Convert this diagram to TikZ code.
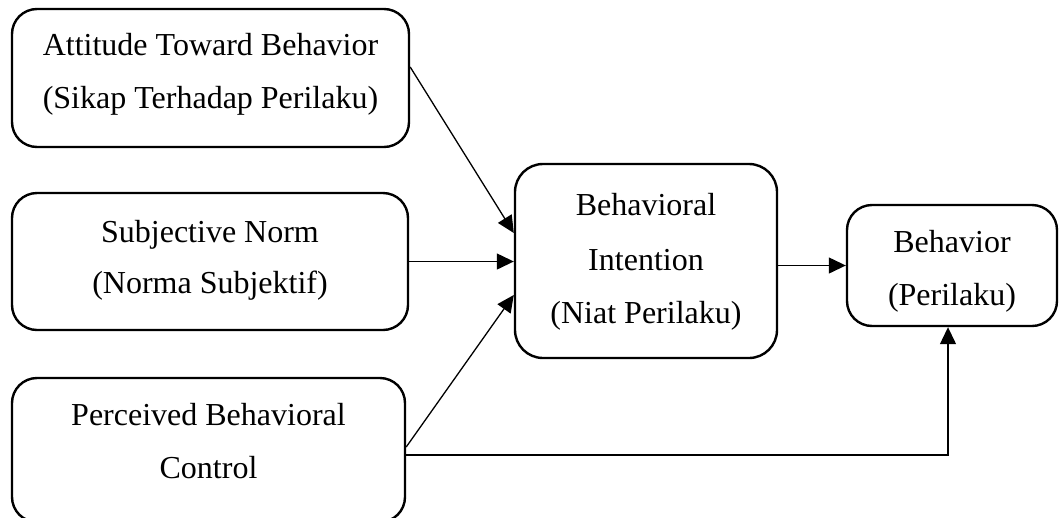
\documentclass[tikz,border=0pt]{standalone}
\usepackage{fontspec}
\setmainfont{Liberation Serif}
\usetikzlibrary{arrows.meta}
\begin{document}
\begin{tikzpicture}[x=1pt,y=-1pt,
  box/.style={draw, line width=2.4pt, rounded corners=25pt, rectangle, inner sep=0pt},
  txt/.style={anchor=base, inner sep=0pt, font=\fontsize{32}{38}\selectfont},
  arr/.style={line width=1.3pt, -{Triangle[length=17pt,width=16pt]}}]
\useasboundingbox (0,0) rectangle (1059,517);
\clip (0,0) rectangle (1059,517);
% boxes
\node[box, minimum width=397pt, minimum height=138pt] (b1) at (210.5,78) {};
\node[box, minimum width=396pt, minimum height=137pt] (b2) at (210,261.5) {};
\node[box, minimum width=393pt, minimum height=144pt] (b3) at (208.5,450) {};
\node[box, rounded corners=28pt, minimum width=262pt, minimum height=194pt] (b4) at (646,261) {};
\node[box, minimum width=210pt, minimum height=121pt] (b5) at (952,265.5) {};
% texts
\node[txt] (t1a) at (210.5,55) {Attitude Toward Behavior};
\node[txt] (t1b) at (210.5,108) {(Sikap Terhadap Perilaku)};
\node[txt] (t2a) at (210,242) {Subjective Norm};
\node[txt] (t2b) at (210,293) {(Norma Subjektif)};
\node[txt] (t3a) at (208.5,425) {Perceived Behavioral};
\node[txt] (t3b) at (208.5,478) {Control};
\node[txt] (t4a) at (646,215) {Behavioral};
\node[txt] (t4b) at (646,270) {Intention};
\node[txt] (t4c) at (646,323) {(Niat Perilaku)};
\node[txt] (t5a) at (952,252) {Behavior};
\node[txt] (t5b) at (952,305) {(Perilaku)};
% connectors
\draw[arr] ([yshift=11pt]b1.east) -- ([yshift=28pt]b4.west);
\draw[arr] (b2.east) -- (b2.east -| b4.west);
\draw[arr] ([yshift=3pt]b3.east) -- ([yshift=-34pt]b4.west);
\draw[arr] (b4.east |- b5.west) -- (b5.west);
\draw[arr] ([yshift=-5pt]b3.east) -| ([xshift=-4pt]b5.south);
\end{tikzpicture}
\end{document}
